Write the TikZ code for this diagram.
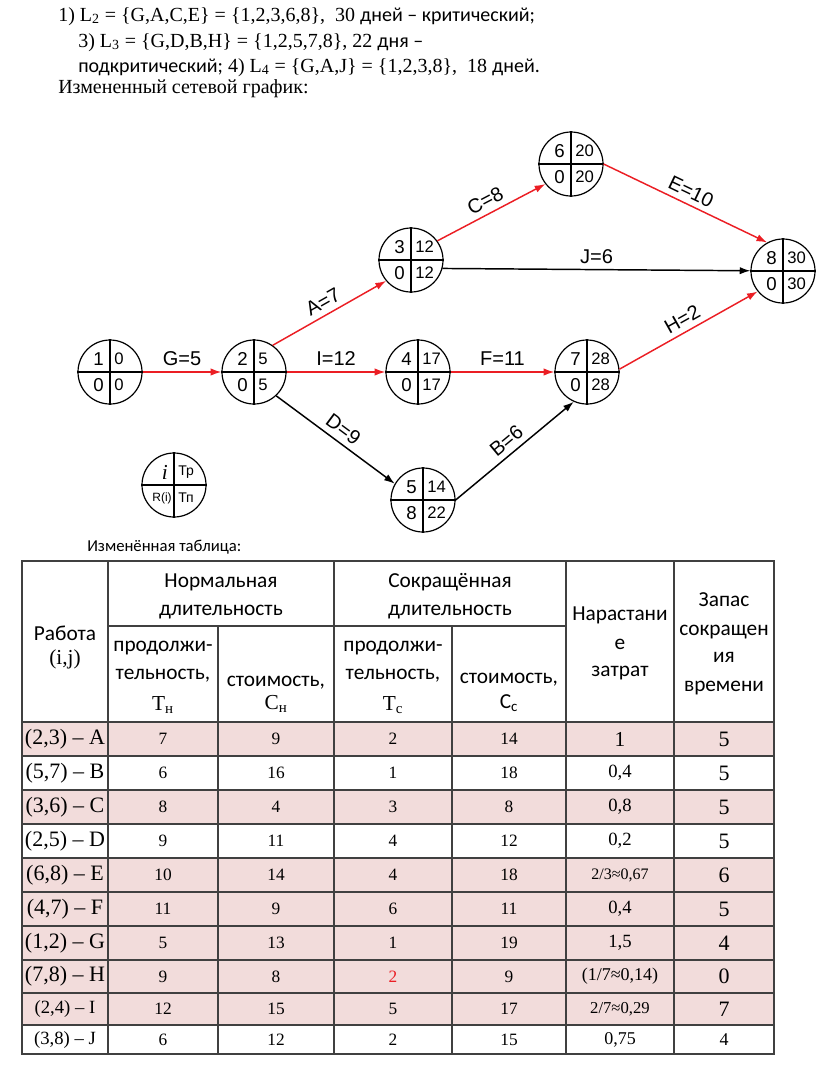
\documentclass[tikz,border=0pt]{standalone}
\usepackage{fontspec}
\setmainfont{Liberation Serif}
\newfontfamily\calib{Carlito}
\newfontfamily\arial{Liberation Sans}
\usepackage{tikz}
\usetikzlibrary{arrows.meta}
\usepackage{xcolor}
\definecolor{rowpink}{RGB}{242,220,219}
\definecolor{rulegray}{RGB}{64,64,64}
\definecolor{critred}{RGB}{235,30,36}
\newcommand\fs[1]{\fontsize{#1}{#1}\selectfont}

\begin{document}
\begin{tikzpicture}[
  x=0.75pt, y=-0.75pt,
  >={Latex[length=8pt,width=5.5pt]},
  event/.style={circle, draw, line width=0.9pt, minimum size=48pt, inner sep=0pt},
  qnum/.style={inner sep=0pt, font=\arial\fs{14}},
  qsmall/.style={inner sep=0pt, font=\arial\fs{12.5}},
  crit/.style={->, line width=1.1pt, critred},
  work/.style={->, line width=1.1pt, black},
  elab/.style={midway, sloped, above=4pt, inner sep=0pt, font=\arial\fs{15}, text=black},
  txt/.style={anchor=base west, inner sep=0pt, font=\fs{15}},
  thead/.style={inner sep=0pt, font=\calib\fs{16}},
  cell/.style={inner sep=0pt, font=\fs{13}},
  rule/.style={rulegray, line width=1.2pt}
]
\useasboundingbox (0,0) rectangle (816,1083);

% text above the graph
\node[txt] (l1) at (58,21) {1) L\textsubscript{2} = \{G,A,C,E\} = \{1,2,3,6,8\},\ \ 30 {\calib дней – критический;}};
\node[txt] (l2) at (78,47) {3) L\textsubscript{3} = \{G,D,B,H\} = \{1,2,5,7,8\}, 22 {\calib дня –}};
\node[txt] (l3) at (78,72) {{\calib подкритический;} 4) L\textsubscript{4} = \{G,A,J\} = \{1,2,3,8\},\ \ 18 {\calib дней.}};
\node[txt] (l4) at (58,93) {Измененный сетевой график:};

% events
\foreach \n/\x/\y/\a/\b/\c/\d in {1/110/372/1/0/0/0, 2/254/372/2/5/0/5, 3/411/260/3/12/0/12,
    4/418/372/4/17/0/17, 5/423/500/5/14/8/22, 6/571/164/6/20/0/20, 7/587/372/7/28/0/28,
    8/783/271/8/30/0/30} {
  \node[event] (e\n) at (\x,\y) {};
  \draw[line width=0.9pt] (e\n.north) -- (e\n.south) (e\n.west) -- (e\n.east);
  \node[qnum, anchor=east] (e\n-i) at ([shift={(-6,-13)}]e\n.center) {\a};
  \node[qsmall, anchor=west] (e\n-tr) at ([shift={(4,-13)}]e\n.center) {\b};
  \node[qnum, anchor=east] (e\n-r) at ([shift={(-6,13)}]e\n.center) {\c};
  \node[qsmall, anchor=west] (e\n-tn) at ([shift={(4,13)}]e\n.center) {\d};
}

% works
\draw[crit] (e1) -- node[elab] {G=5} (e2);
\draw[crit] (e2.55) -- node[elab] {A=7} (e3.220);
\draw[crit] (e2) -- node[elab] {I=12} (e4);
\draw[work] (e2.313) -- node[elab] {D=9} (e5.150);
\draw[crit] (e3.36) -- node[elab] {C=8} (e6.218);
\draw[work] (e3.345) -- node[elab] {J=6} (e8);
\draw[crit] (e6.east) -- node[elab] {E=10} (e8.119);
\draw[crit] (e4) -- node[elab] {F=11} (e7);
\draw[work] (e5.east) -- node[elab] {B=6} (e7.246);
\draw[crit] (e7.5) -- node[elab] {H=2} (e8.219);

% key
\node[event] (key) at (174,485) {};
\draw[line width=0.9pt] (key.north) -- (key.south) (key.west) -- (key.east);
\node[qnum, anchor=east, font=\rmfamily\itshape\fs{16}] (key-i) at ([shift={(-6,-13)}]key.center) {i};
\node[qnum, anchor=west, font=\arial\fs{10.5}] (key-tr) at ([shift={(4,-13)}]key.center) {Тр};
\node[qnum, anchor=east, font=\arial\fs{9}] (key-r) at ([shift={(-2,13)}]key.center) {R(i)};
\node[qnum, anchor=west, font=\arial\fs{10.5}] (key-tn) at ([shift={(4,13)}]key.center) {Тп};

% table
\node[txt, font=\calib\fs{12.5}] (cap) at (87,551) {Изменённая таблица:};
\foreach \x/\y/\t [count=\k] in {65/633/Работа, 65/659/{\rmfamily (i,j)},
    221/582/Нормальная, 221/612/длительность, 450/582/Сокращённая, 450/612/длительность,
    163/648/продолжи-, 163/676/{тельность,}, 163/705/{\rmfamily T\textsubscript{н}},
    276/683/{стоимость,}, 276/704/{\rmfamily C\textsubscript{н}},
    393/648/продолжи-, 393/676/{тельность,}, 393/705/{\rmfamily T\textsubscript{с}},
    509/680/{стоимость,}, 509/703/{C\textsubscript{с}},
    620/615/Нарастани, 620/644/е, 620/673/затрат,
    724/600/Запас, 724/632/сокращен, 724/657/ия, 724/688/времени}
  \node[thead] (th\k) at (\x,\y) {\t};

\foreach \t/\b/\f/\lab/\na/\nb/\nc/\nd/\inc/\res [count=\r] in {
    722/756/rowpink/{(2,3) – A}/7/9/2/14/{\fs{16}1}/5,
    756/790/white/{(5,7) – B}/6/16/1/18/{0,4}/5,
    790/824/rowpink/{(3,6) – C}/8/4/3/8/{0,8}/5,
    824/858/white/{(2,5) – D}/9/11/4/12/{0,2}/5,
    858/892/rowpink/{(6,8) – E}/10/14/4/18/{\fs{12}2/3≈0,67}/6,
    892/926/rowpink/{(4,7) – F}/11/9/6/11/{0,4}/5,
    926/960/rowpink/{(1,2) – G}/5/13/1/19/{1,5}/4,
    960/993/rowpink/{(7,8) – H}/9/8/{\textcolor{critred}{2}}/9/{\fs{13.5}(1/7≈0,14)}/0,
    993/1025/rowpink/{\fs{14}(2,4) – I}/12/15/5/17/{\fs{12.5}2/7≈0,29}/7,
    1025/1054/white/{\fs{14}(3,8) – J}/6/12/2/15/{\fs{13.5}0,75}/{\fs{13.5}4}} {
  \fill[\f] (22,\t) rectangle (774,\b);
  \node[cell, font=\fs{16.5}] (r\r-1) at (65,{(\t+\b)/2}) {\lab};
  \node[cell] (r\r-2) at (163,{(\t+\b)/2}) {\na};
  \node[cell] (r\r-3) at (276,{(\t+\b)/2}) {\nb};
  \node[cell] (r\r-4) at (393,{(\t+\b)/2}) {\nc};
  \node[cell] (r\r-5) at (509,{(\t+\b)/2}) {\nd};
  \node[cell, font=\fs{14}] (r\r-6) at (620,{(\t+\b)/2}) {\inc};
  \node[cell, font=\fs{16.5}] (r\r-7) at (724,{(\t+\b)/2}) {\res};
}
\draw[rule] (22,561) rectangle (774,1054);
\foreach \x in {108,334,566,674} \draw[rule] (\x,561) -- (\x,1054);
\foreach \x in {218,452} \draw[rule] (\x,626) -- (\x,1054);
\draw[rule] (108,626) -- (566,626);
\foreach \y in {722,756,790,824,858,892,926,960,993,1025} \draw[rule] (22,\y) -- (774,\y);
\end{tikzpicture}
\end{document}
